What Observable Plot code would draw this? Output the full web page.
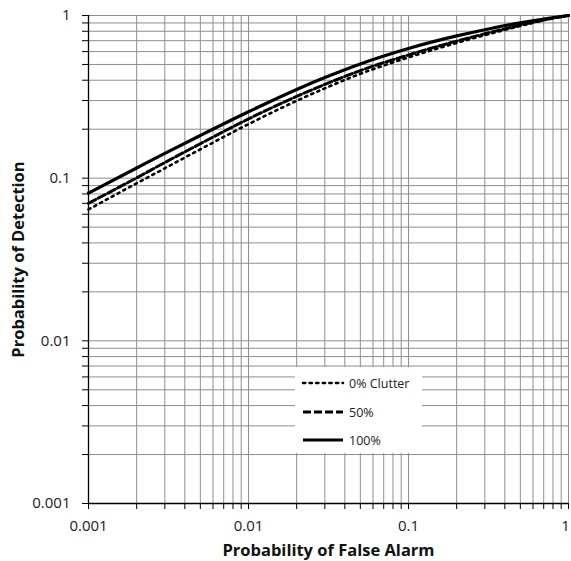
<!DOCTYPE html>
<html>
<head>
<meta charset="utf-8">
<script src="https://cdn.jsdelivr.net/npm/d3@7"></script>
<script src="https://cdn.jsdelivr.net/npm/@observablehq/plot@0.6"></script>
<style>
  html, body { margin: 0; padding: 0; background: #fff; }
  #wrap { position: relative; width: 571px; height: 561px; }
  #legend { position: absolute; left: 295px; top: 367px; width: 127px; height: 86px; background: #fff;
            font-family: "Open Sans", sans-serif; font-size: 12.5px; color: #222; }
  #legend .row { position: absolute; left: 6px; height: 16px; display: flex; align-items: center; }
  #legend svg { margin-right: 4px; }
</style>
</head>
<body>
<div id="wrap"></div>
<script>
// Probability of false alarm (x) values
const pfa = [0.001, 0.002, 0.003, 0.005, 0.01, 0.02, 0.03, 0.05, 0.1, 0.2, 0.3, 0.5, 0.7, 1];
// Probability of detection for each clutter level
const pd0 = [0.0642, 0.0930, 0.1150, 0.1505, 0.2149, 0.2989, 0.3567, 0.438, 0.5527, 0.6784, 0.7576, 0.862, 0.9347, 1.0];
const pd50 = [0.0701, 0.1005, 0.1248, 0.1628, 0.2313, 0.318, 0.377, 0.4586, 0.572, 0.696, 0.772, 0.872, 0.939, 1.0];
const pd100 = [0.081, 0.1155, 0.142, 0.183, 0.256, 0.351, 0.4155, 0.504, 0.627, 0.749, 0.818, 0.901, 0.952, 1.0];
const seriesNames = ["0% Clutter", "50%", "100%"];
const majorTicks = [0.001, 0.01, 0.1, 1];
const tickLabels = ["0.001", "0.01", "0.1", "1"];
const xTitle = "Probability of False Alarm";
const yTitle = "Probability of Detection";

const minorTicks = [];
for (const d of [0.001, 0.01, 0.1]) for (let k = 1; k <= 9; k++) minorTicks.push(+(k * d).toPrecision(3));
minorTicks.push(1);

const styles = [
  {stroke: "#000", strokeWidth: 2.6, strokeDasharray: "2.2,4.4", strokeLinecap: "round"},
  {stroke: "#000", strokeWidth: 3, strokeDasharray: "8,3"},
  {stroke: "#000", strokeWidth: 3.2}
];
const seriesVals = [pd0, pd50, pd100];
const rows = [];
seriesVals.forEach((vals, i) => vals.forEach((v, j) => rows.push({s: seriesNames[i], x: pfa[j], y: v})));

const fmt = d => tickLabels[majorTicks.indexOf(d)] ?? "";

const chart = Plot.plot({
  width: 571, height: 561,
  marginLeft: 88, marginRight: 3, marginTop: 15, marginBottom: 58,
  x: {type: "log", domain: [0.001, 1]},
  y: {type: "log", domain: [0.001, 1]},
  style: {fontFamily: "'Open Sans', sans-serif", fontSize: "15px", color: "#222", background: "#fff", overflow: "visible"},
  marks: [
    Plot.gridX(minorTicks, {stroke: "#8e8e8e", strokeOpacity: 1, strokeWidth: 1}),
    Plot.gridY(minorTicks, {stroke: "#8e8e8e", strokeOpacity: 1, strokeWidth: 1}),
    Plot.axisX(minorTicks, {tickSize: 6, text: null, label: null, stroke: "#000"}),
    Plot.axisY(minorTicks, {tickSize: 6, text: null, label: null, stroke: "#000"}),
    Plot.axisX(majorTicks.slice(0, 3), {tickSize: 0, tickPadding: 17, tickFormat: fmt, label: null, fill: "#222", fontSize: 15}),
    Plot.axisX(majorTicks.slice(3), {tickSize: 0, tickPadding: 17, tickFormat: fmt, label: null, fill: "#222", fontSize: 15, dx: -3}),
    Plot.axisY(majorTicks, {tickSize: 0, tickPadding: 18, tickFormat: fmt, label: null, fill: "#222", fontSize: 15}),
    Plot.ruleX([0.001], {stroke: "#000", strokeWidth: 1.3}),
    Plot.ruleY([0.001], {stroke: "#000", strokeWidth: 1.3}),
    ...seriesNames.map((name, i) => Plot.line(rows.filter(r => r.s === name), {x: "x", y: "y", curve: "monotone-x", ...styles[i]})),
    Plot.text([xTitle], {frameAnchor: "bottom", dy: 47, lineAnchor: "middle", textAnchor: "middle", fontWeight: "bold", fontSize: 16.5, fill: "#111"}),
    Plot.text([yTitle], {frameAnchor: "left", dx: -70, rotate: -90, lineAnchor: "middle", textAnchor: "middle", fontWeight: "bold", fontSize: 16.5, fill: "#111"})
  ]
});

const wrap = document.getElementById("wrap");
wrap.appendChild(chart);

// Legend overlay
const legend = document.createElement("div");
legend.id = "legend";
const rowTops = [8, 37, 65];
seriesNames.forEach((name, i) => {
  const row = document.createElement("div");
  row.className = "row";
  row.style.top = rowTops[i] + "px";
  const st = styles[i];
  row.innerHTML = `<svg width="44" height="16"><line x1="2" x2="42" y1="8" y2="8" stroke="${st.stroke}" stroke-width="${st.strokeWidth}" ${st.strokeDasharray ? `stroke-dasharray="${st.strokeDasharray}"` : ""} ${st.strokeLinecap ? `stroke-linecap="${st.strokeLinecap}"` : ""}/></svg><span>${name}</span>`;
  legend.appendChild(row);
});
wrap.appendChild(legend);
</script>
</body>
</html>
